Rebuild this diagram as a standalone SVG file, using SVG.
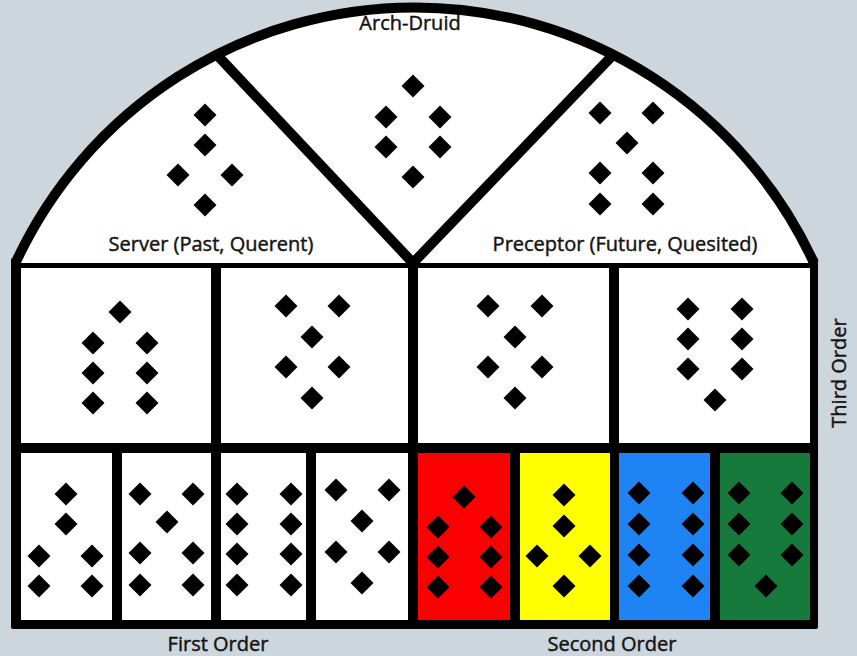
<svg xmlns="http://www.w3.org/2000/svg" xmlns:xlink="http://www.w3.org/1999/xlink" width="857" height="656" viewBox="0 0 857 656">
<style>
.lbl{font-family:"Open Sans","Noto Sans","Liberation Sans",sans-serif;font-size:20px;fill:#141414;stroke:#141414;stroke-width:0.45;text-anchor:middle}
.cell{fill:#ffffff}
.line{stroke:#000;stroke-width:10;fill:none}
</style>
<defs>
<path id="d" d="M0,-11.5 L11.5,0 L0,11.5 L-11.5,0Z" fill="#000"/>
</defs>
<rect width="857" height="656" fill="#cdd6dc"/>
<g id="frame">
<rect x="11" y="258" width="807" height="371" rx="2" fill="#000"/>
</g>
<g id="server">
<path class="cell" d="M15.5,263 A439.6,439.6 0 0 1 217,55 L413,263 Z"/>
<use href="#d" x="205" y="115"/><use href="#d" x="205" y="145"/><use href="#d" x="178" y="175"/><use href="#d" x="232" y="175"/><use href="#d" x="205" y="205"/>
<text class="lbl" x="211" y="251">Server (Past, Querent)</text>
</g>
<g id="arch-druid">
<path class="cell" d="M217,55 A439.6,439.6 0 0 1 613,55 L413,263 Z"/>
<use href="#d" x="413" y="86"/><use href="#d" x="386" y="117"/><use href="#d" x="440" y="117"/><use href="#d" x="386" y="147"/><use href="#d" x="440" y="147"/><use href="#d" x="413" y="177"/>
<text class="lbl" x="410" y="30">Arch-Druid</text>
</g>
<g id="preceptor">
<path class="cell" d="M613,55 A439.6,439.6 0 0 1 814,263 L413,263 Z"/>
<use href="#d" x="600" y="113"/><use href="#d" x="653" y="113"/><use href="#d" x="627" y="143"/><use href="#d" x="600" y="173"/><use href="#d" x="653" y="173"/><use href="#d" x="600" y="204"/><use href="#d" x="653" y="204"/>
<text class="lbl" x="625" y="251">Preceptor (Future, Quesited)</text>
</g>
<g id="connectors">
<line class="line" x1="217" y1="55" x2="413" y2="263"/>
<line class="line" x1="613" y1="55" x2="413" y2="263"/>
<path class="line" d="M15.5,263 A439.6,439.6 0 0 1 814,263"/>
</g>
<g id="third-1">
<rect class="cell" x="21" y="268" width="190" height="175"/>
<use href="#d" x="120" y="312"/><use href="#d" x="93" y="343"/><use href="#d" x="147" y="343"/><use href="#d" x="93" y="373"/><use href="#d" x="147" y="373"/><use href="#d" x="93" y="403"/><use href="#d" x="147" y="403"/>
</g>
<g id="third-2">
<rect class="cell" x="221" y="268" width="187" height="175"/>
<use href="#d" x="286" y="306"/><use href="#d" x="339" y="306"/><use href="#d" x="312" y="337"/><use href="#d" x="286" y="367"/><use href="#d" x="339" y="367"/><use href="#d" x="312" y="398"/>
</g>
<g id="third-3">
<rect class="cell" x="418" y="268" width="191" height="175"/>
<use href="#d" x="488" y="306"/><use href="#d" x="542" y="306"/><use href="#d" x="515" y="337"/><use href="#d" x="488" y="367"/><use href="#d" x="542" y="367"/><use href="#d" x="515" y="398"/>
</g>
<g id="third-4">
<rect class="cell" x="619" y="268" width="191" height="175"/>
<use href="#d" x="688" y="309"/><use href="#d" x="742" y="309"/><use href="#d" x="688" y="339"/><use href="#d" x="742" y="339"/><use href="#d" x="688" y="369"/><use href="#d" x="742" y="369"/><use href="#d" x="715" y="400"/>
</g>
<g id="first-1">
<rect class="cell" x="21" y="453" width="91" height="167"/>
<use href="#d" x="66" y="494"/><use href="#d" x="66" y="524"/><use href="#d" x="39" y="556"/><use href="#d" x="92" y="556"/><use href="#d" x="39" y="586"/><use href="#d" x="92" y="586"/>
</g>
<g id="first-2">
<rect class="cell" x="122" y="453" width="89" height="167"/>
<use href="#d" x="140" y="494"/><use href="#d" x="193" y="494"/><use href="#d" x="167" y="522"/><use href="#d" x="140" y="553"/><use href="#d" x="193" y="553"/><use href="#d" x="140" y="585"/><use href="#d" x="193" y="585"/>
</g>
<g id="first-3">
<rect class="cell" x="221" y="453" width="85" height="167"/>
<use href="#d" x="237" y="494"/><use href="#d" x="291" y="494"/><use href="#d" x="237" y="524"/><use href="#d" x="291" y="524"/><use href="#d" x="237" y="554"/><use href="#d" x="291" y="554"/><use href="#d" x="237" y="585"/><use href="#d" x="291" y="585"/>
</g>
<g id="first-4">
<rect class="cell" x="316" y="453" width="92" height="167"/>
<use href="#d" x="336" y="490"/><use href="#d" x="389" y="490"/><use href="#d" x="362" y="521"/><use href="#d" x="336" y="552"/><use href="#d" x="389" y="552"/><use href="#d" x="362" y="583"/>
</g>
<g id="second-red">
<rect x="418" y="453" width="92" height="167" fill="#fb0000"/>
<use href="#d" x="464" y="497"/><use href="#d" x="438" y="527"/><use href="#d" x="491" y="527"/><use href="#d" x="438" y="557"/><use href="#d" x="491" y="557"/><use href="#d" x="438" y="587"/><use href="#d" x="491" y="587"/>
</g>
<g id="second-yellow">
<rect x="520" y="453" width="90" height="167" fill="#ffff00"/>
<use href="#d" x="564" y="495"/><use href="#d" x="564" y="526"/><use href="#d" x="537" y="556"/><use href="#d" x="590" y="556"/><use href="#d" x="564" y="586"/>
</g>
<g id="second-blue">
<rect x="619" y="453" width="91" height="167" fill="#1e84f4"/>
<use href="#d" x="639" y="493"/><use href="#d" x="693" y="493"/><use href="#d" x="639" y="524"/><use href="#d" x="693" y="524"/><use href="#d" x="639" y="555"/><use href="#d" x="693" y="555"/><use href="#d" x="639" y="586"/><use href="#d" x="693" y="586"/>
</g>
<g id="second-green">
<rect x="720" y="453" width="90" height="167" fill="#167a3c"/>
<use href="#d" x="739" y="493"/><use href="#d" x="792" y="493"/><use href="#d" x="739" y="524"/><use href="#d" x="792" y="524"/><use href="#d" x="739" y="555"/><use href="#d" x="792" y="555"/><use href="#d" x="766" y="586"/>
</g>
<g id="labels">
<text class="lbl" x="218" y="651">First Order</text>
<text class="lbl" x="612" y="651">Second Order</text>
<text class="lbl" transform="translate(846,373) rotate(-90)">Third Order</text>
</g>
</svg>
